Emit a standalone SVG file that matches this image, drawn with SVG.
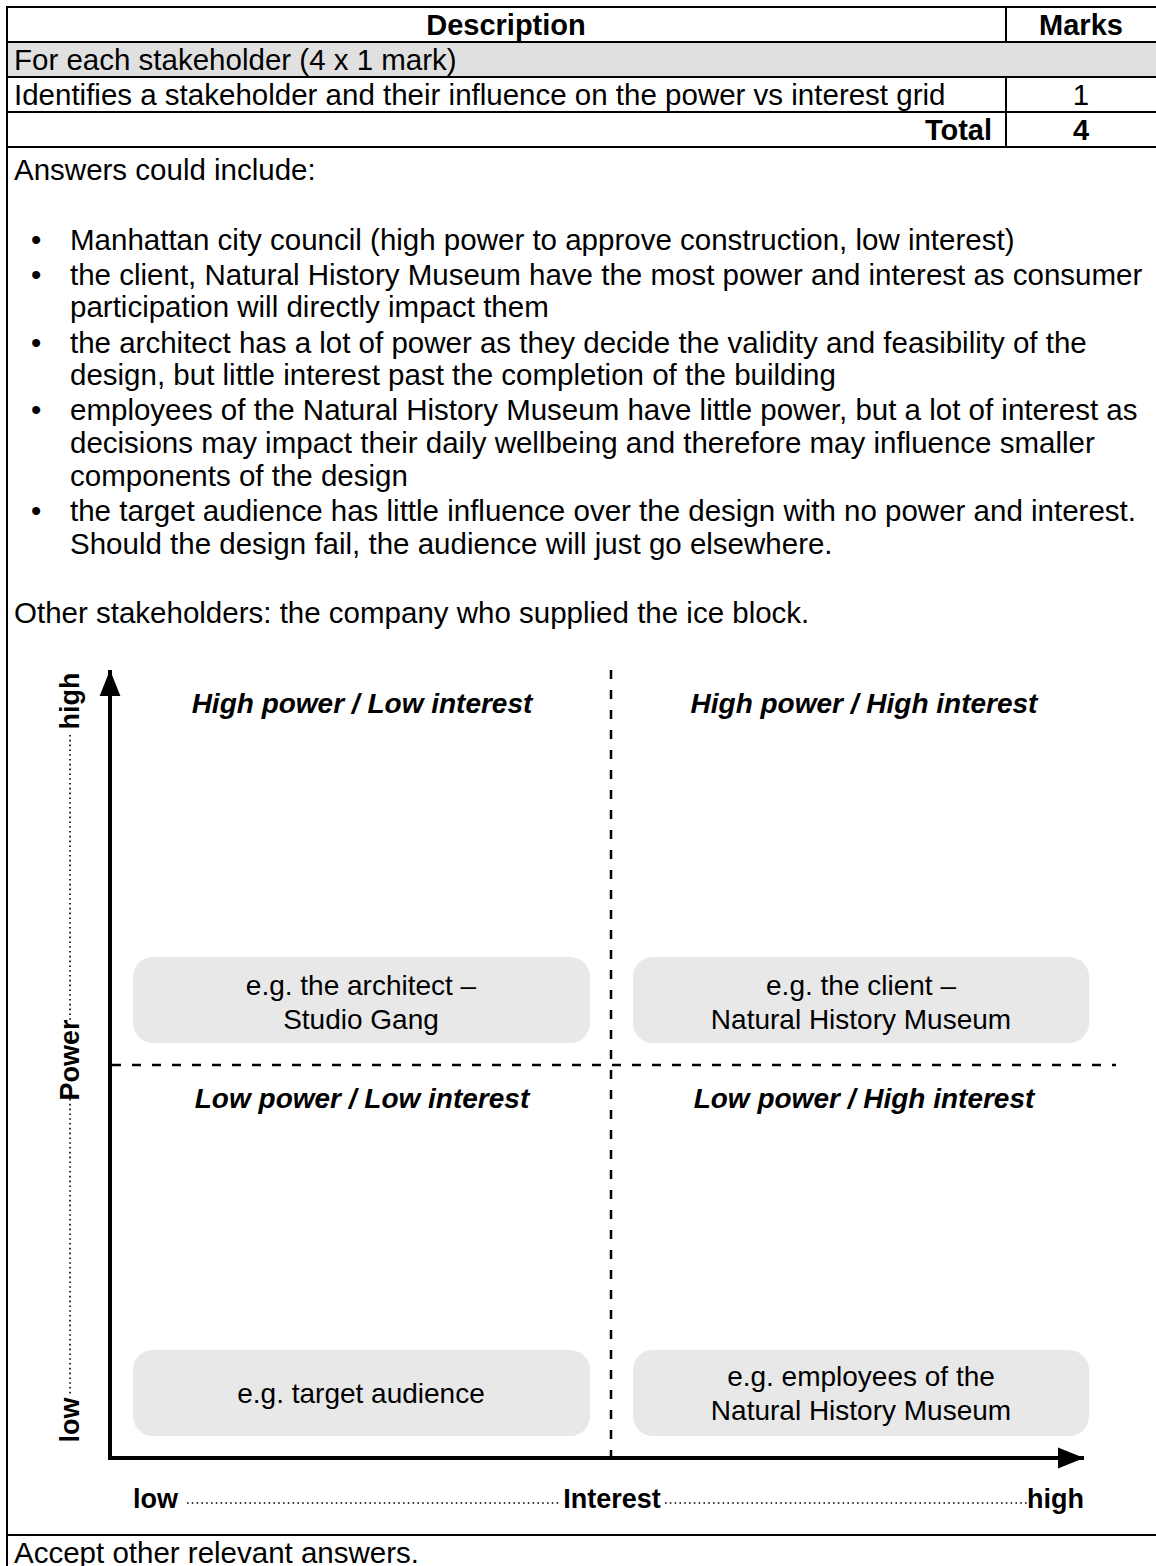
<svg xmlns="http://www.w3.org/2000/svg" width="1156" height="1566" viewBox="0 0 1156 1566">
<style>
text{font-family:"Liberation Sans",Arial,sans-serif;font-size:29.5px;fill:#000}
.b{font-weight:bold}
.h{font-size:29px}
.bi{font-weight:bold;font-style:italic;font-size:28px}
.bx{font-size:28px}
.ax{font-weight:bold;font-size:27px}
.c{text-anchor:middle}
.r{text-anchor:end}
.tl{stroke:#000;stroke-width:2;fill:none}
.dash{stroke:#000;stroke-width:2.5;stroke-dasharray:9 11;fill:none}
.dot{stroke:#000;stroke-width:1.6;stroke-dasharray:1.6 3.2;fill:none}
.box{fill:#e8e8e8}
.axis{stroke:#000;stroke-width:4;fill:none}
</style>
<defs>
<marker id="ah" viewBox="0 0 10 10" refX="10" refY="5" markerWidth="6.5" markerHeight="6.5" markerUnits="strokeWidth" orient="auto">
<path d="M0,1 L10,5 L0,9 z" fill="#000"/>
</marker>
</defs>
<g id="table">
<rect x="7" y="42" width="1150" height="35" fill="#e0e0e0"/>
<line class="tl" x1="7" y1="7" x2="1157" y2="7"/>
<line class="tl" x1="7" y1="42" x2="1157" y2="42"/>
<line class="tl" x1="7" y1="77" x2="1157" y2="77"/>
<line class="tl" x1="7" y1="112" x2="1157" y2="112"/>
<line class="tl" x1="7" y1="147" x2="1157" y2="147"/>
<line class="tl" x1="7" y1="1535" x2="1157" y2="1535"/>
<line class="tl" x1="7" y1="6" x2="7" y2="1566"/>
<line class="tl" x1="1006" y1="7" x2="1006" y2="42"/>
<line class="tl" x1="1006" y1="77" x2="1006" y2="147"/>
<text class="b c h" x="506" y="35">Description</text>
<text class="b c h" x="1081" y="35">Marks</text>
<text x="14" y="70">For each stakeholder (4 x 1 mark)</text>
<text x="14" y="105">Identifies a stakeholder and their influence on the power vs interest grid</text>
<text class="c" x="1081" y="105">1</text>
<text class="b r h" x="992" y="140">Total</text>
<text class="b c h" x="1081" y="140">4</text>
<text x="14" y="180">Answers could include:</text>
<g id="bullets">
<text x="31" y="250">•</text><text x="70" y="250">Manhattan city council (high power to approve construction, low interest)</text>
<text x="31" y="285">•</text><text x="70" y="285">the client, Natural History Museum have the most power and interest as consumer</text>
<text x="70" y="317">participation will directly impact them</text>
<text x="31" y="353">•</text><text x="70" y="353">the architect has a lot of power as they decide the validity and feasibility of the</text>
<text x="70" y="385">design, but little interest past the completion of the building</text>
<text x="31" y="420">•</text><text x="70" y="420">employees of the Natural History Museum have little power, but a lot of interest as</text>
<text x="70" y="453">decisions may impact their daily wellbeing and therefore may influence smaller</text>
<text x="70" y="486">components of the design</text>
<text x="31" y="521">•</text><text x="70" y="521">the target audience has little influence over the design with no power and interest.</text>
<text x="70" y="554">Should the design fail, the audience will just go elsewhere.</text>
</g>
<text x="14" y="623">Other stakeholders: the company who supplied the ice block.</text>
<text x="14" y="1563">Accept other relevant answers.</text>
</g>
<g id="connectors">
<line class="dash" x1="611" y1="670" x2="611" y2="1456"/>
<line class="dash" x1="112" y1="1065" x2="1116" y2="1065"/>
<line class="axis" x1="110" y1="1458" x2="110" y2="670" marker-end="url(#ah)"/>
<line class="axis" x1="108" y1="1458" x2="1084" y2="1458" marker-end="url(#ah)"/>
<line class="dot" x1="70" y1="735" x2="70" y2="1022"/>
<line class="dot" x1="70" y1="1099" x2="70" y2="1396"/>
<line class="dot" x1="187" y1="1503" x2="560" y2="1503"/>
<line class="dot" x1="665" y1="1503" x2="1027" y2="1503"/>
</g>
<g id="axis-labels">
<text class="ax c" transform="translate(79,701) rotate(-90)">high</text>
<text class="ax c" transform="translate(79,1060) rotate(-90)">Power</text>
<text class="ax c" transform="translate(79,1420) rotate(-90)">low</text>
<text class="ax" x="133" y="1508">low</text>
<text class="ax c" x="612" y="1508">Interest</text>
<text class="ax r" x="1084" y="1508">high</text>
</g>
<g id="q-hl"><text class="bi c" x="362" y="713">High power / Low interest</text></g>
<g id="q-hh"><text class="bi c" x="864" y="713">High power / High interest</text></g>
<g id="q-ll"><text class="bi c" x="362" y="1108">Low power / Low interest</text></g>
<g id="q-lh"><text class="bi c" x="864" y="1108">Low power / High interest</text></g>
<g id="node-architect">
<rect class="box" x="133" y="957" width="457" height="86" rx="20"/>
<text class="bx c" x="361" y="995">e.g. the architect –</text>
<text class="bx c" x="361" y="1029">Studio Gang</text>
</g>
<g id="node-client">
<rect class="box" x="633" y="957" width="456" height="86" rx="20"/>
<text class="bx c" x="861" y="995">e.g. the client –</text>
<text class="bx c" x="861" y="1029">Natural History Museum</text>
</g>
<g id="node-audience">
<rect class="box" x="133" y="1350" width="457" height="86" rx="20"/>
<text class="bx c" x="361" y="1403">e.g. target audience</text>
</g>
<g id="node-employees">
<rect class="box" x="633" y="1350" width="456" height="86" rx="20"/>
<text class="bx c" x="861" y="1386">e.g. employees of the</text>
<text class="bx c" x="861" y="1420">Natural History Museum</text>
</g>
</svg>
